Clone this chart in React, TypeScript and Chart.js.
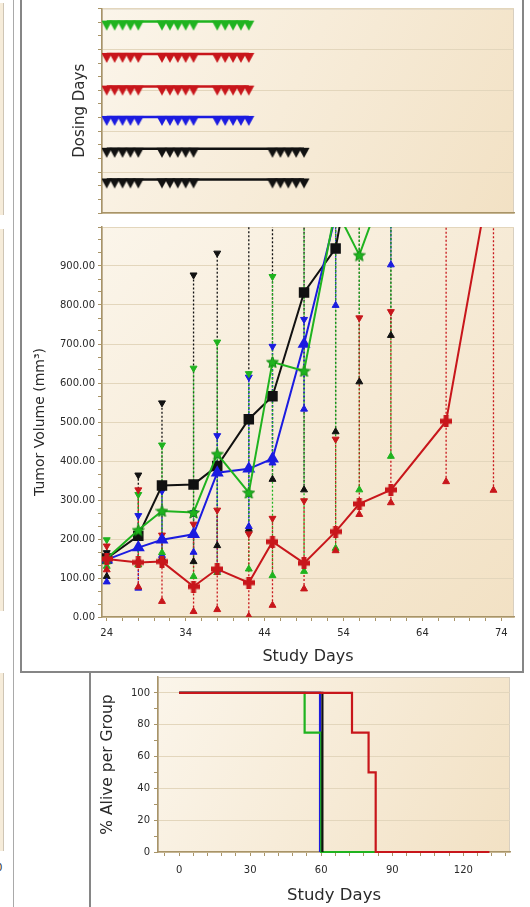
import React, { useEffect, useRef } from 'react';
import { Chart, registerables } from 'chart.js';
Chart.register(...registerables);

// ---------------- data ----------------
// Dosing panel: row levels (top to bottom) and dose days
const DOSE_ROW_LEVELS = [4.68, 3.89, 3.09, 2.35, 1.57, 0.82];
const DOSE_DAYS_STD = [24, 25, 26, 27, 28, 31, 32, 33, 34, 35, 38, 39, 40, 41, 42];
const DOSE_DAYS_ALT = [24, 25, 26, 27, 28, 31, 32, 33, 34, 35, 45, 46, 47, 48, 49];

// Tumor volume panel
const STUDY_DAYS = [24, 28, 31, 35, 38, 42, 45, 49, 53, 56, 60, 67, 73];
const BLACK_MEAN = [150, 208, 337, 340, 387, 507, 566, 832, 945, 1280, 1450, null, null];
const BLACK_MAX = [165, 364, 549, 877, 933, 1100, 1200, 1300, 1400, 1500, 1600, null, null];
const BLACK_MIN = [104, 144, 152, 142, 183, 225, 353, 326, 475, 603, 722, null, null];
const BLUE_MEAN = [147, 178, 198, 212, 370, 380, 406, 700, 1030, 1300, 1400, null, null];
const BLUE_MAX = [155, 260, 323, 268, 465, 615, 694, 763, 1200, 1500, 1600, null, null];
const BLUE_MIN = [90, 74, 158, 166, 120, 232, 395, 533, 799, 1050, 903, null, null];
const GREEN_MEAN = [150, 223, 272, 268, 418, 319, 654, 631, 1048, 928, 1150, null, null];
const GREEN_MAX = [198, 314, 441, 638, 705, 624, 873, 1100, 1300, 1200, 1400, null, null];
const GREEN_MIN = [130, 134, 165, 104, 114, 123, 106, 117, 176, 326, 412, null, null];
const RED_MEAN = [149, 140, 142, 78, 123, 88, 193, 138, 219, 290, 326, 502, 1180];
const RED_MAX = [182, 326, 210, 238, 274, 213, 253, 298, 456, 767, 783, 1200, 1300];
const RED_MIN = [121, 77, 40, 14, 19, 2, 30, 72, 170, 263, 293, 347, 325];

const MID_X_LABELS = [24, 34, 44, 54, 64, 74];
const MID_Y_LABELS = [0, 100, 200, 300, 400, 500, 600, 700, 800, 900];

// Survival panel
const SURV_RED_DAYS = [0, 73, 80, 83, 131];
const SURV_RED_PCT = [100, 75, 50, 0, 0];
const SURV_BLACK_DAYS = [0, 60.5];
const SURV_BLACK_PCT = [100, 0];
const SURV_GREEN_DAYS = [0, 53, 60, 83];
const SURV_GREEN_PCT = [100, 75, 0, 0];
const SURV_BLUE_DAYS = [0, 59.5];
const SURV_BLUE_PCT = [100, 0];
const SURV_X_LABELS = [0, 30, 60, 90, 120];
const SURV_Y_LABELS = [0, 20, 40, 60, 80, 100];

// ---------------- styles ----------------
const FONT = '"DejaVu Sans", Verdana, sans-serif';
const GREEN = '#1fb31f';
const RED = '#c8161b';
const BLUE = '#1b1be0';
const BLACK = '#111111';
const AXIS = '#a89468';
const GRID = '#e3d6bc';
const TXT = '#2a2a2a';
const TICKFONT = { family: FONT, size: 10 };

const areaBg = {
  id: 'areaBg',
  beforeDraw(chart: any) {
    const { ctx, chartArea: a } = chart;
    ctx.save();
    const g = ctx.createLinearGradient(a.left, a.top, a.right, a.bottom);
    g.addColorStop(0, '#fbf5ea');
    g.addColorStop(1, '#f2e1c4');
    ctx.fillStyle = g;
    ctx.fillRect(a.left, a.top, a.right - a.left, a.bottom - a.top);
    ctx.strokeStyle = '#d8cfc0';
    ctx.lineWidth = 1;
    ctx.strokeRect(a.left + 0.5, a.top + 0.5, a.right - a.left - 1, a.bottom - a.top - 1);
    ctx.restore();
  },
};

function makeStar(color: string, edge: string, size = 13) {
  const c = document.createElement('canvas');
  c.width = size;
  c.height = size;
  const g = c.getContext('2d')!;
  const cx = size / 2, cy = size / 2 + 0.6, R = size / 2 - 0.3, r = R * 0.45;
  g.beginPath();
  for (let i = 0; i < 10; i++) {
    const ang = -Math.PI / 2 + (i * Math.PI) / 5;
    const rad = i % 2 === 0 ? R : r;
    g.lineTo(cx + rad * Math.cos(ang), cy + rad * Math.sin(ang));
  }
  g.closePath();
  g.fillStyle = color;
  g.fill();
  g.strokeStyle = edge;
  g.lineWidth = 1;
  g.stroke();
  return c;
}

function makePlus(color: string, size = 12, arm = 5) {
  const c = document.createElement('canvas');
  c.width = size;
  c.height = size;
  const g = c.getContext('2d')!;
  g.fillStyle = color;
  const o = (size - arm) / 2;
  g.fillRect(o, 0, arm, size);
  g.fillRect(0, o, size, arm);
  return c;
}

// downward triangle hanging below its anchor point (anchor = image centre)
function makeHangingTri(color: string) {
  const c = document.createElement('canvas');
  c.width = 12;
  c.height = 22;
  const g = c.getContext('2d')!;
  g.beginPath();
  g.moveTo(0.5, 10);
  g.lineTo(11.5, 10);
  g.lineTo(6, 20);
  g.closePath();
  g.fillStyle = color;
  g.fill();
  return c;
}

const isMult = (v: number, step: number) => Math.abs(v / step - Math.round(v / step)) < 1e-6;

function pts(days: number[], vals: (number | null)[]) {
  const out: any[] = [];
  days.forEach((d, i) => {
    if (vals[i] != null) out.push({ x: d, y: vals[i] });
  });
  return out;
}

function rangeSegs(days: number[], lo: (number | null)[], hi: (number | null)[]) {
  const out: any[] = [];
  days.forEach((d, i) => {
    if (lo[i] != null && hi[i] != null) {
      out.push({ x: d, y: lo[i] }, { x: d, y: hi[i] }, { x: d, y: null });
    }
  });
  return out;
}

function makeDosing(canvas: HTMLCanvasElement) {
  const rows = [
    { color: GREEN, days: DOSE_DAYS_STD },
    { color: RED, days: DOSE_DAYS_STD },
    { color: RED, days: DOSE_DAYS_STD },
    { color: BLUE, days: DOSE_DAYS_STD },
    { color: BLACK, days: DOSE_DAYS_ALT },
    { color: BLACK, days: DOSE_DAYS_ALT },
  ];
  const yTicks: number[] = [];
  for (let k = 0; k <= 15; k++) yTicks.push(k / 3);
  return new Chart(canvas, {
    type: 'line',
    data: {
      datasets: rows.map((r, i) => ({
        data: r.days.map((d) => ({ x: d, y: DOSE_ROW_LEVELS[i] })),
        borderColor: r.color,
        backgroundColor: r.color,
        borderWidth: 2.5,
        pointStyle: makeHangingTri(r.color) as any,
        pointRadius: 6,
      })),
    },
    options: {
      responsive: false,
      animation: false,
      devicePixelRatio: 1,
      layout: { padding: { top: 3, right: 13, left: 0, bottom: 0 } },
      plugins: { legend: { display: false }, tooltip: { enabled: false } },
      scales: {
        x: {
          type: 'linear',
          min: 23.4,
          max: 75.6,
          afterFit: (s: any) => { s.height = 9; },
          ticks: { display: false },
          grid: { drawOnChartArea: false, drawTicks: false, color: AXIS },
          border: { color: AXIS, width: 1.5 },
        },
        y: {
          type: 'linear',
          min: 0,
          max: 5,
          afterBuildTicks: (s: any) => { s.ticks = yTicks.map((v) => ({ value: v })); },
          afterFit: (s: any) => { s.width = 80; },
          ticks: { display: false, autoSkip: false },
          grid: {
            color: (c: any) => (c.tick && isMult(c.tick.value, 1) ? GRID : 'rgba(0,0,0,0)'),
            tickColor: AXIS,
            tickLength: 4,
          },
          border: { color: AXIS, width: 1.5 },
          title: {
            display: true,
            text: 'Dosing Days',
            color: TXT,
            font: { family: FONT, size: 15 },
            padding: { top: 49, bottom: 0 },
          },
        },
      },
    },
    plugins: [areaBg],
  } as any);
}

function makeTumor(canvas: HTMLCanvasElement) {
  const star = makeStar(GREEN, '#138a13', 13);
  const plus = makePlus(RED, 12, 5);
  const groups = [
    { color: RED, mean: RED_MEAN, hi: RED_MAX, lo: RED_MIN, style: plus as any, radius: 6 },
    { color: GREEN, mean: GREEN_MEAN, hi: GREEN_MAX, lo: GREEN_MIN, style: star as any, radius: 6 },
    { color: BLUE, mean: BLUE_MEAN, hi: BLUE_MAX, lo: BLUE_MIN, style: 'triangle', radius: 5.5 },
    { color: BLACK, mean: BLACK_MEAN, hi: BLACK_MAX, lo: BLACK_MIN, style: 'rect', radius: 6 },
  ];
  const datasets: any[] = [];
  groups.forEach((g, i) => {
    datasets.push({
      data: pts(STUDY_DAYS, g.mean),
      borderColor: g.color,
      backgroundColor: g.color,
      borderWidth: 2,
      pointStyle: g.style,
      pointRadius: g.radius,
      pointBackgroundColor: g.color,
      pointBorderColor: g.color,
      order: i,
    });
    datasets.push({
      data: pts(STUDY_DAYS, g.hi),
      showLine: false,
      pointStyle: 'triangle',
      rotation: 180,
      pointRadius: 4,
      pointBackgroundColor: g.color,
      pointBorderColor: g.color,
      borderColor: g.color,
      order: 10 + i,
    });
    datasets.push({
      data: pts(STUDY_DAYS, g.lo),
      showLine: false,
      pointStyle: 'triangle',
      pointRadius: 4,
      pointBackgroundColor: g.color,
      pointBorderColor: g.color,
      borderColor: g.color,
      order: 10 + i,
    });
    datasets.push({
      data: rangeSegs(STUDY_DAYS, g.lo, g.hi),
      borderColor: g.color,
      borderWidth: 1.3,
      borderDash: [2, 2],
      pointRadius: 0,
      spanGaps: false,
      order: 20 + i,
    });
  });
  const xTicks: number[] = [];
  for (let v = 24; v <= 74; v += 2) xTicks.push(v);
  const yTicks: number[] = [];
  for (let k = 0; k <= 30; k++) yTicks.push((k * 100) / 3);
  return new Chart(canvas, {
    type: 'line',
    data: { datasets },
    options: {
      responsive: false,
      animation: false,
      devicePixelRatio: 1,
      layout: { padding: { top: 8, right: 13, left: 0, bottom: 0 } },
      plugins: { legend: { display: false }, tooltip: { enabled: false } },
      scales: {
        x: {
          type: 'linear',
          min: 23.4,
          max: 75.6,
          afterBuildTicks: (s: any) => { s.ticks = xTicks.map((v) => ({ value: v })); },
          afterFit: (s: any) => { s.height = 53; },
          ticks: {
            autoSkip: false,
            maxRotation: 0,
            padding: 6,
            color: TXT,
            font: TICKFONT,
            callback: (v: any) => (MID_X_LABELS.includes(v) ? String(v) : ''),
          },
          grid: { drawOnChartArea: false, tickLength: 4, tickColor: AXIS, color: AXIS },
          border: { color: AXIS, width: 1.5 },
          title: {
            display: true,
            text: 'Study Days',
            color: TXT,
            font: { family: FONT, size: 16 },
            padding: { top: 0, bottom: 3.5 },
          },
        },
        y: {
          type: 'linear',
          min: 0,
          max: 1000,
          afterBuildTicks: (s: any) => { s.ticks = yTicks.map((v) => ({ value: v })); },
          afterFit: (s: any) => { s.width = 80; },
          ticks: {
            autoSkip: false,
            padding: 3,
            color: TXT,
            font: TICKFONT,
            callback: (v: any) => {
              const m = MID_Y_LABELS.find((l) => Math.abs(l - v) < 1e-6);
              return m !== undefined ? m.toFixed(2) : '';
            },
          },
          grid: {
            color: (c: any) => (c.tick && isMult(c.tick.value, 100) ? GRID : 'rgba(0,0,0,0)'),
            tickColor: AXIS,
            tickLength: 4,
          },
          border: { color: AXIS, width: 1.5 },
          title: {
            display: true,
            text: 'Tumor Volume (mm³)',
            color: TXT,
            font: { family: FONT, size: 14 },
            padding: { top: 10, bottom: 0 },
          },
        },
      },
    },
    plugins: [areaBg],
  } as any);
}

function makeSurvival(canvas: HTMLCanvasElement) {
  const lines = [
    { color: RED, days: SURV_RED_DAYS, pct: SURV_RED_PCT },
    { color: BLACK, days: SURV_BLACK_DAYS, pct: SURV_BLACK_PCT },
    { color: GREEN, days: SURV_GREEN_DAYS, pct: SURV_GREEN_PCT },
    { color: BLUE, days: SURV_BLUE_DAYS, pct: SURV_BLUE_PCT },
  ];
  const xTicks: number[] = [];
  for (let v = -6; v <= 138; v += 6) xTicks.push(v);
  const yTicks: number[] = [];
  for (let v = 0; v <= 100; v += 10) yTicks.push(v);
  return new Chart(canvas, {
    type: 'line',
    data: {
      datasets: lines.map((l) => ({
        data: pts(l.days, l.pct),
        borderColor: l.color,
        borderWidth: 2.2,
        stepped: true,
        pointRadius: 0,
        clip: 4,
      })),
    },
    options: {
      responsive: false,
      animation: false,
      devicePixelRatio: 1,
      layout: { padding: { top: 8, right: 5, left: 0, bottom: 0 } },
      plugins: { legend: { display: false }, tooltip: { enabled: false } },
      scales: {
        x: {
          type: 'linear',
          min: -8.9,
          max: 139.7,
          afterBuildTicks: (s: any) => { s.ticks = xTicks.map((v) => ({ value: v })); },
          afterFit: (s: any) => { s.height = 55; },
          ticks: {
            autoSkip: false,
            maxRotation: 0,
            padding: 8,
            color: TXT,
            font: TICKFONT,
            callback: (v: any) => (SURV_X_LABELS.includes(v) ? String(v) : ''),
          },
          grid: { drawOnChartArea: false, tickLength: 4, tickColor: AXIS, color: AXIS },
          border: { color: AXIS, width: 1.5 },
          title: {
            display: true,
            text: 'Study Days',
            color: TXT,
            font: { family: FONT, size: 16.5 },
            padding: { top: 0, bottom: 1.5 },
          },
        },
        y: {
          type: 'linear',
          min: 0,
          max: 110,
          afterBuildTicks: (s: any) => { s.ticks = yTicks.map((v) => ({ value: v })); },
          afterFit: (s: any) => { s.width = 67; },
          ticks: {
            autoSkip: false,
            padding: 4,
            color: TXT,
            font: TICKFONT,
            callback: (v: any) => (SURV_Y_LABELS.includes(v) ? String(v) : ''),
          },
          grid: {
            color: (c: any) => (c.tick && isMult(c.tick.value, 20) ? GRID : 'rgba(0,0,0,0)'),
            tickColor: AXIS,
            tickLength: 4,
          },
          border: { color: AXIS, width: 1.5 },
          title: {
            display: true,
            text: '% Alive per Group',
            color: TXT,
            font: { family: FONT, size: 15.5 },
            padding: { top: 8, bottom: 0 },
          },
        },
      },
    },
    plugins: [areaBg],
  } as any);
}

const box = (l: number, t: number, w: number, h: number, c: string) => (
  <div style={{ position: 'absolute', left: l, top: t, width: w, height: h, background: c }} />
);

export default function App() {
  const topRef = useRef<HTMLCanvasElement>(null);
  const midRef = useRef<HTMLCanvasElement>(null);
  const botRef = useRef<HTMLCanvasElement>(null);
  useEffect(() => {
    const charts = [
      makeDosing(topRef.current!),
      makeTumor(midRef.current!),
      makeSurvival(botRef.current!),
    ];
    return () => charts.forEach((c) => c.destroy());
  }, []);
  return (
    <div
      style={{
        position: 'absolute',
        left: 0,
        top: 0,
        width: 530,
        height: 907,
        background: '#ffffff',
        overflow: 'hidden',
        fontFamily: FONT,
      }}
    >
      {/* neighbouring panel slivers on the far left */}
      <div style={{ position: 'absolute', left: 0, top: 3, width: 3, height: 212, background: '#f6ecda', borderRight: '1px solid #cfc5b4' }} />
      <div style={{ position: 'absolute', left: 0, top: 229, width: 3, height: 382, background: '#f6ecda', borderRight: '1px solid #cfc5b4' }} />
      <div style={{ position: 'absolute', left: 0, top: 673, width: 3, height: 178, background: '#f6ecda', borderRight: '1px solid #cfc5b4' }} />
      <div style={{ position: 'absolute', left: -4, top: 862, fontSize: 10, color: TXT, lineHeight: '12px' }}>0</div>
      {/* frame lines */}
      {box(13, 0, 1, 907, '#a9a9a9')}
      {box(20, 0, 2, 673, '#868686')}
      {box(20, 671, 504, 2, '#868686')}
      {box(522, 0, 2, 673, '#868686')}
      {box(89, 671, 2, 236, '#868686')}
      <canvas ref={topRef} width={505} height={222} style={{ position: 'absolute', left: 22, top: 0 }} />
      <canvas ref={midRef} width={505} height={452} style={{ position: 'absolute', left: 22, top: 218 }} />
      <canvas ref={botRef} width={424} height={240} style={{ position: 'absolute', left: 91, top: 667 }} />
    </div>
  );
}
